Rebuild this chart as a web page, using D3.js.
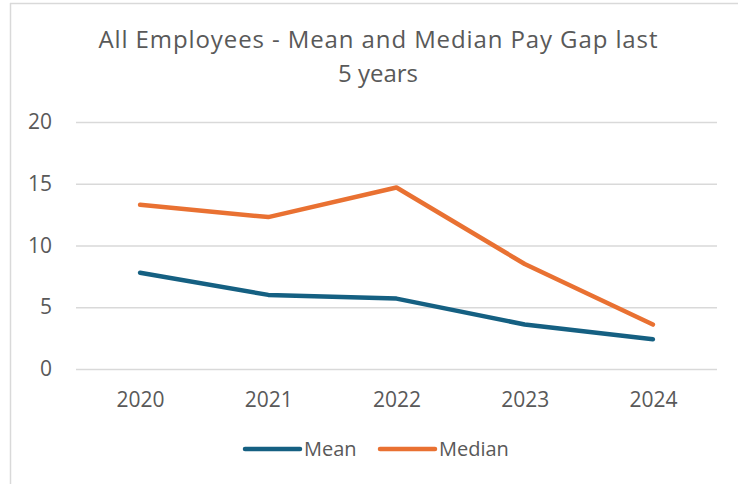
<!DOCTYPE html>
<html><head><meta charset="utf-8">
<script src="https://cdn.jsdelivr.net/npm/d3@7"></script>
<style>body{margin:0;background:#fff}svg{display:block}</style>
</head><body>
<svg id="c" width="738" height="484"></svg>
<script>
const years = ["2020","2021","2022","2023","2024"];
const meanValues = [7.8, 6.0, 5.7, 3.6, 2.4];
const medianValues = [13.3, 12.3, 14.7, 8.5, 3.6];
const yTicks = [0, 5, 10, 15, 20];
const seriesNames = ["Mean", "Median"];
const colors = ["#156082", "#E97132"];

const svg = d3.select("#c");
const W = 738, H = 484;
const m = {l:76, r:21, t:122, b:115};
const txt = "#595959";
const font = "'Open Sans', sans-serif";

// frame
svg.append("line").attr("x1",10.5).attr("x2",10.5).attr("y1",3).attr("y2",H).attr("stroke","#d9d9d9").attr("stroke-width",1.5);
svg.append("line").attr("x1",10).attr("x2",W).attr("y1",3.5).attr("y2",3.5).attr("stroke","#d9d9d9").attr("stroke-width",1.5);

const x = d3.scalePoint().domain(years).range([m.l, W-m.r]).padding(0.5);
const y = d3.scaleLinear().domain([0,20]).range([H-m.b, m.t]);

// title
const title = svg.append("text").attr("text-anchor","middle").attr("fill",txt)
  .style("font-family",font).style("font-size","24px");
title.append("tspan").attr("x",378).attr("y",48).attr("textLength",559).attr("lengthAdjust","spacing")
  .text("All Employees - Mean and Median Pay Gap last");
title.append("tspan").attr("x",378).attr("y",82).text("5 years");

// grid + y axis
const ya = svg.append("g").attr("transform",`translate(${m.l},0)`)
  .call(d3.axisLeft(y).tickValues(yTicks).tickSize(-(W-m.l-m.r)).tickPadding(24));
ya.select(".domain").remove();
ya.selectAll(".tick line").attr("stroke","#d9d9d9").attr("stroke-width",1.5);
ya.selectAll(".tick text").attr("fill",txt).style("font-family",font).style("font-size","21px");

// x axis
const xa = svg.append("g").attr("transform",`translate(0,${H-m.b})`)
  .call(d3.axisBottom(x).tickSize(0).tickPadding(23));
xa.select(".domain").remove();
xa.selectAll(".tick text").attr("fill",txt).style("font-family",font).style("font-size","21px");

const line = d3.line().x((d,i)=>x(years[i])).y(d=>y(d));
[meanValues, medianValues].forEach((vals,i)=>{
  svg.append("path").datum(vals).attr("d",line).attr("fill","none")
    .attr("stroke",colors[i]).attr("stroke-width",4.5)
    .attr("stroke-linejoin","round").attr("stroke-linecap","round");
});

// legend
const legX = [245, 380];
seriesNames.forEach((n,i)=>{
  svg.append("line").attr("x1",legX[i]).attr("x2",legX[i]+55).attr("y1",449).attr("y2",449)
    .attr("stroke",colors[i]).attr("stroke-width",4.5).attr("stroke-linecap","round");
  svg.append("text").attr("x",legX[i]+59).attr("y",456).attr("fill",txt)
    .style("font-family",font).style("font-size","20px").text(n);
});
</script>
</body></html>
